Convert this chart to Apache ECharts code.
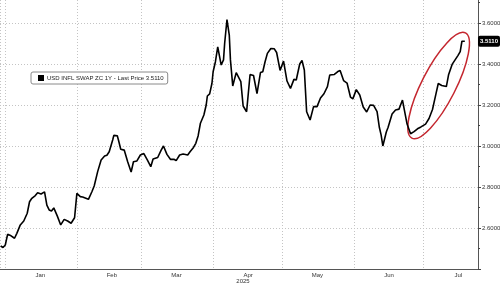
<!DOCTYPE html>
<html><head><meta charset="utf-8">
<script src="https://cdn.jsdelivr.net/npm/echarts@6/dist/echarts.min.js"></script>
<style>html,body{margin:0;padding:0;background:#fff}#c{width:500px;height:285px}</style>
</head><body><div id="c"></div>
<script>
// ---- data ----
const dates = [
'2024-12-30','2024-12-31','2025-01-01','2025-01-02','2025-01-03T12:00','2025-01-05','2025-01-06','2025-01-07T12:00','2025-01-09','2025-01-10T12:00',
'2025-01-11T12:00','2025-01-12T12:00','2025-01-14','2025-01-15','2025-01-16T12:00','2025-01-18','2025-01-19','2025-01-20','2025-01-21','2025-01-22',
'2025-01-23T12:00','2025-01-25','2025-01-26T12:00','2025-01-28','2025-01-29T12:00','2025-01-31','2025-02-01','2025-02-02T12:00','2025-02-03T12:00','2025-02-06',
'2025-02-07T12:00','2025-02-08T12:00','2025-02-10','2025-02-11T12:00','2025-02-13','2025-02-14','2025-02-15','2025-02-16T12:00','2025-02-17','2025-02-18T12:00',
'2025-02-19','2025-02-20','2025-02-21T12:00','2025-02-23','2025-02-24T12:00','2025-02-25T12:00','2025-02-27','2025-02-28T12:00','2025-03-02','2025-03-03T12:00',
'2025-03-05','2025-03-06','2025-03-08','2025-03-09T12:00','2025-03-10T12:00','2025-03-12','2025-03-13T12:00','2025-03-15','2025-03-16','2025-03-17T12:00',
'2025-03-19','2025-03-21','2025-03-22','2025-03-23T12:00','2025-03-24T12:00','2025-03-25T12:00','2025-03-26T12:00','2025-03-28','2025-03-29','2025-03-29T12:00',
'2025-03-30T12:00','2025-03-31T12:00','2025-04-01','2025-04-02','2025-04-03','2025-04-04T12:00','2025-04-05T12:00','2025-04-06','2025-04-07','2025-04-08',
'2025-04-08T12:00','2025-04-09T12:00','2025-04-11','2025-04-13','2025-04-14','2025-04-15T12:00','2025-04-17','2025-04-18T12:00','2025-04-20','2025-04-21T12:00',
'2025-04-22T12:00','2025-04-23T12:00','2025-04-24T12:00','2025-04-26','2025-04-27T12:00','2025-04-28T12:00','2025-04-30','2025-05-01T12:00','2025-05-03','2025-05-04T12:00',
'2025-05-06','2025-05-07','2025-05-08T12:00','2025-05-09T12:00','2025-05-10T12:00','2025-05-11T12:00','2025-05-13','2025-05-14T12:00','2025-05-16','2025-05-17T12:00',
'2025-05-19','2025-05-20T12:00','2025-05-21T12:00','2025-05-23T12:00','2025-05-25','2025-05-26','2025-05-27T12:00','2025-05-29','2025-05-30T12:00','2025-05-31T12:00',
'2025-06-02','2025-06-03T12:00','2025-06-05','2025-06-06T12:00','2025-06-08','2025-06-09T12:00','2025-06-11','2025-06-12','2025-06-12T18:00','2025-06-13T12:00',
'2025-06-15','2025-06-15T18:00','2025-06-16T12:00','2025-06-17T12:00','2025-06-19','2025-06-20T12:00','2025-06-22','2025-06-24','2025-06-25T12:00','2025-06-27',
'2025-06-28T12:00','2025-06-30','2025-07-02','2025-07-03T12:00','2025-07-05','2025-07-06T12:00','2025-07-07T12:00','2025-07-09','2025-07-11','2025-07-12',
'2025-07-13T12:00','2025-07-15','2025-07-16','2025-07-17','2025-07-17T18:00','2025-07-19'
];
const values = [
2.512,2.505,2.517,2.569,2.562,2.550,2.574,2.615,2.634,2.672,
2.728,2.745,2.758,2.772,2.766,2.776,2.712,2.688,2.683,2.698,
2.659,2.615,2.642,2.634,2.623,2.650,2.769,2.753,2.751,2.740,
2.777,2.805,2.875,2.932,2.951,2.955,2.972,3.029,3.052,3.050,
3.029,2.984,2.980,2.923,2.873,2.923,2.927,2.956,2.963,2.932,
2.899,2.937,2.944,2.980,3.000,2.959,2.935,2.935,2.929,2.956,
2.961,2.956,2.972,2.993,3.013,3.049,3.111,3.151,3.200,3.244,
3.254,3.306,3.362,3.411,3.484,3.395,3.420,3.501,3.617,3.541,
3.420,3.293,3.358,3.314,3.195,3.167,3.349,3.344,3.256,3.358,
3.362,3.411,3.452,3.476,3.474,3.456,3.369,3.414,3.317,3.281,
3.325,3.322,3.400,3.417,3.371,3.167,3.127,3.192,3.192,3.234,
3.255,3.290,3.346,3.349,3.363,3.368,3.319,3.307,3.238,3.230,
3.275,3.249,3.190,3.166,3.200,3.198,3.168,3.090,3.054,3.000,
3.068,3.090,3.086,3.156,3.176,3.180,3.224,3.107,3.060,3.070,
3.084,3.093,3.107,3.134,3.178,3.254,3.305,3.295,3.290,3.349,
3.398,3.424,3.441,3.460,3.511,3.511
];
const yTickLabels = [2.6, 2.8, 3.0, 3.2, 3.4, 3.6];
const monthNames = ['Jan','Feb','Mar','Apr','May','Jun','Jul','Aug','Sep','Oct','Nov','Dec'];
const seriesName = 'USD INFL SWAP ZC 1Y - Last Price 3.5110';
const lastPrice = 3.5110;
const yearLabel = '2025';
const highlightCenter = ['2025-07-07T16:00', 3.295];

// ---- chart ----
const chart = echarts.init(document.getElementById('c'), null, {renderer: 'canvas'});
const FONT = '"Liberation Sans", Arial, sans-serif';
chart.setOption({
  animation: false,
  backgroundColor: '#fff',
  grid: {left: 0, right: 22, top: -18, bottom: 16, containLabel: false, outerBoundsMode: 'none'},
  legend: {
    left: 31, top: 72, orient: 'horizontal',
    icon: 'rect', itemWidth: 6, itemHeight: 6, itemGap: 0,
    padding: [3, 4, 3, 7],
    backgroundColor: '#fff', borderColor: '#8a8a8a', borderWidth: 1, borderRadius: 2,
    textStyle: {fontSize: 6, color: '#222', fontFamily: FONT, padding: [0, 0, 0, -2]},
    data: [{name: seriesName, itemStyle: {color: '#000'}}]
  },
  xAxis: {
    type: 'time',
    min: '2024-12-29T17:00', max: '2025-07-24T17:00',
    splitNumber: 8, minInterval: 28 * 864e5, maxInterval: 31 * 864e5,
    axisLine: {show: true, lineStyle: {color: '#555', width: 1}},
    axisTick: {show: false},
    axisLabel: {
      hideOverlap: false, margin: 3,
      formatter: function (v) { return '{m|' + monthNames[new Date(v).getMonth()] + '}'; },
      rich: {m: {padding: [0, 0, 0, 70], fontSize: 6, color: '#333', fontFamily: FONT}}
    },
    splitLine: {show: true, lineStyle: {type: [1, 2], color: '#c4c4c4', width: 1}},
    name: yearLabel, nameLocation: 'middle', nameGap: 9, nameMoveOverlap: false,
    nameTextStyle: {fontSize: 6, color: '#333', fontFamily: FONT, padding: [0, 0, 0, 8]}
  },
  yAxis: {
    type: 'value', position: 'right',
    min: 2.4, max: 3.8, interval: 0.2,
    axisLine: {show: true, lineStyle: {color: '#555', width: 1}},
    axisTick: {show: true, length: 3, lineStyle: {color: '#444'}},
    minorTick: {show: true, splitNumber: 2, length: 2, lineStyle: {color: '#444'}},
    minorSplitLine: {show: false},
    axisLabel: {
      margin: 4, fontSize: 6, color: '#333', fontFamily: FONT,
      formatter: function (v) { return yTickLabels.some(t => Math.abs(t - v) < 1e-6) ? v.toFixed(4) : ''; }
    },
    splitLine: {show: true, lineStyle: {type: [1, 2], color: '#c4c4c4', width: 1}},
    axisPointer: {
      show: true, type: 'none', status: 'show', value: lastPrice, triggerTooltip: false,
      label: {
        show: true, margin: 1, backgroundColor: '#000', color: '#fff', fontSize: 6, fontWeight: 'bold',
        fontFamily: FONT, padding: [3, 2, 2, 2], borderRadius: 2,
        formatter: function (p) { return Number(p.value).toFixed(4); }
      }
    }
  },
  series: [{
    type: 'line', name: seriesName,
    data: dates.map((d, i) => [d, values[i]]),
    showSymbol: false, symbol: 'none', silent: true,
    lineStyle: {color: '#000', width: 1.6},
    itemStyle: {color: '#000'}
  }]
});
const c = chart.convertToPixel({xAxisIndex: 0, yAxisIndex: 0}, highlightCenter);
chart.setOption({graphic: [{
  type: 'ellipse', x: c[0], y: c[1], rotation: 63 * Math.PI / 180, silent: true,
  shape: {cx: 0, cy: 0, rx: 59, ry: 17},
  style: {fill: 'none', stroke: '#c4262e', lineWidth: 1.5}
}]});
</script></body></html>
